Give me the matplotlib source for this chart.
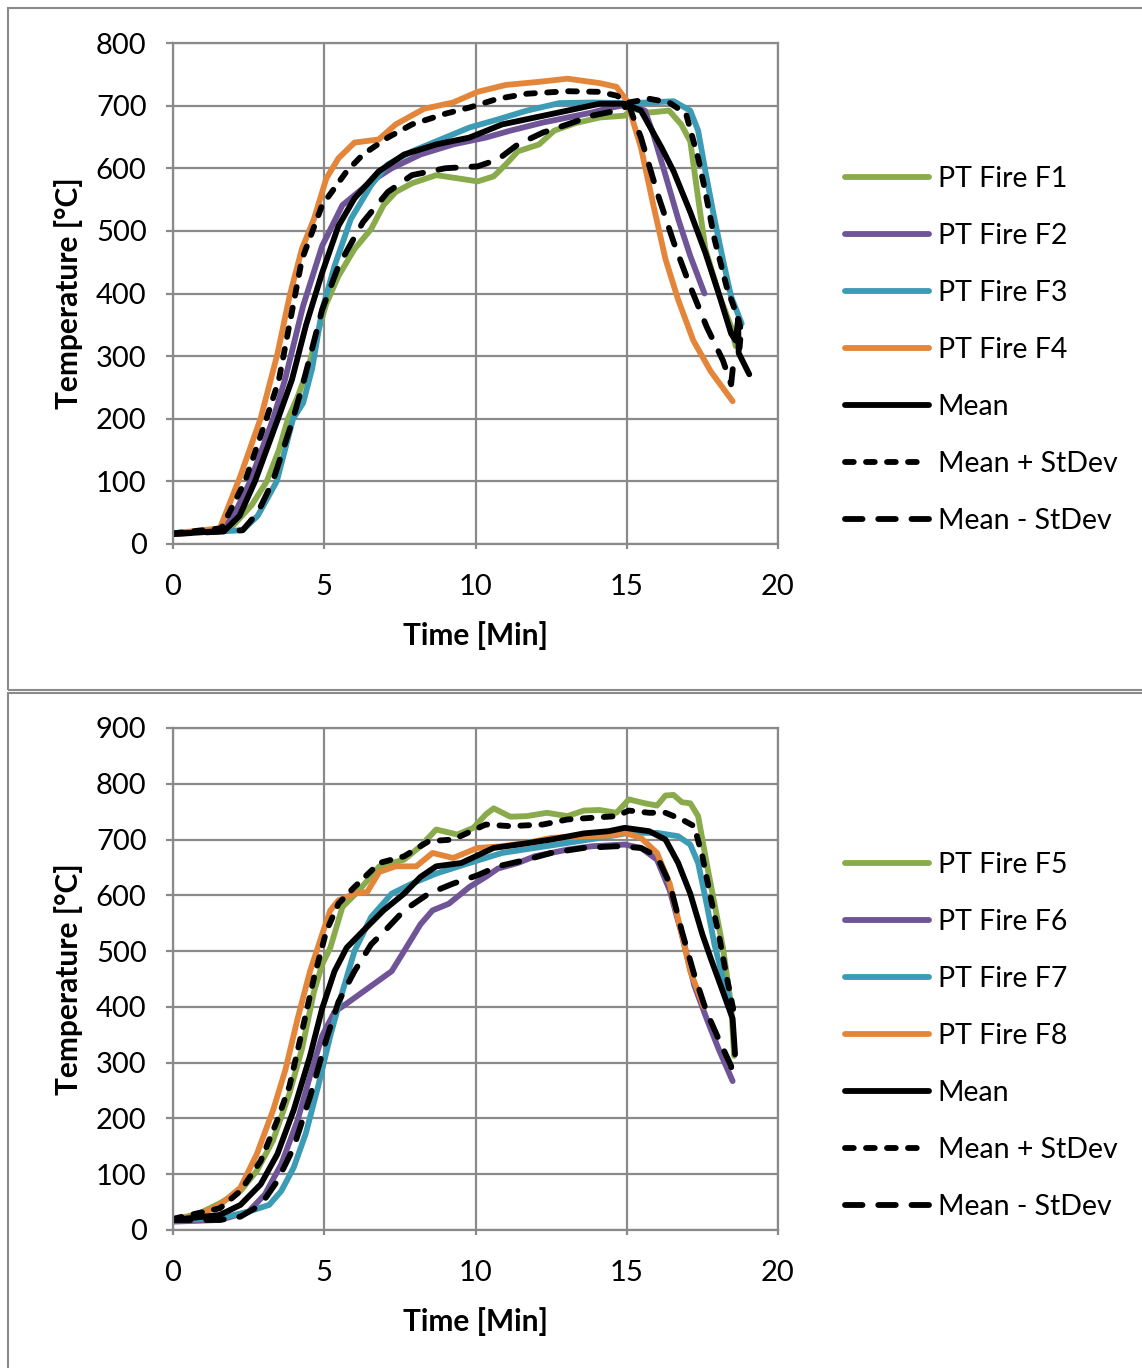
import matplotlib
matplotlib.use('Agg')
import matplotlib.pyplot as plt
from matplotlib.patches import Rectangle

plt.rcParams['font.family'] = ['Lato', 'DejaVu Sans']

# ---- top chart (F1-F4) ----
t_f1 = [0, 1.5, 2.0, 2.6, 3.1, 3.5, 3.8, 4.12, 4.46, 4.8, 5.07, 5.47, 6.0, 6.55, 6.96, 7.36, 7.9, 8.7, 9.4,
        10.07, 10.6, 11.0, 11.4, 12.1, 12.6, 13.3, 14.1, 14.93, 15.2, 15.74, 16.4, 16.8, 17.1, 17.36, 17.6,
        18.04, 18.45, 18.6]
T_f1 = [17, 22, 30, 62, 100, 150, 200, 235, 280, 340, 384, 428, 471, 503, 541, 562, 576, 589, 584,
        579, 587, 606, 627, 638, 660, 672, 681, 684, 695, 689, 692, 670, 643, 552, 471,
        400, 347, 316]

t_f2 = [0, 1.6, 2.0, 2.55, 3.31, 3.7, 4.3, 4.93, 5.6, 6.55, 7.23, 8.18, 9.26, 10.34, 11.15, 12.23, 13.04,
        13.85, 14.4, 15.07, 15.6, 15.88, 16.28, 16.7, 17.1, 17.57]
T_f2 = [17, 22, 45, 100, 200, 262, 380, 476, 541, 579, 600, 622, 638, 649, 660, 673, 681,
        689, 696, 702, 692, 654, 589, 519, 460, 400]

t_f3 = [0, 1.5, 2.3, 2.8, 3.43, 3.97, 4.3, 4.6, 4.93, 5.34, 5.88, 6.55, 7.1, 7.9, 9.0, 9.8, 10.74, 11.7,
        12.77, 13.85, 14.93, 15.74, 16.55, 17.1, 17.36, 17.6, 17.9, 18.18, 18.45, 18.8]
T_f3 = [17, 20, 22, 45, 100, 200, 225, 280, 374, 444, 519, 573, 606, 627, 649, 665, 678, 692,
        704, 705, 704, 705, 707, 692, 660, 595, 519, 454, 395, 352]

t_f4 = [0, 1.55, 2.23, 2.9, 3.45, 3.85, 4.26, 4.66, 5.07, 5.47, 6.0, 6.8, 7.36, 8.3, 9.26, 10.07, 11.0,
        12.1, 13.04, 14.1, 14.66, 15.0, 15.47, 15.88, 16.28, 16.7, 17.2, 17.77, 18.5]
T_f4 = [17, 25, 109, 201, 303, 395, 471, 519, 584, 616, 641, 646, 670, 695, 705, 722, 733,
        738, 743, 736, 730, 708, 633, 541, 455, 390, 325, 276, 228]

t_m1 = [0, 1.7, 2.2, 2.71, 3.47, 3.93, 4.4, 4.93, 5.47, 6.0, 6.8, 7.64, 8.7, 9.8, 10.88, 11.96, 13.04,
        14.1, 14.93, 15.47, 16.15, 16.55, 17.1, 17.6, 18.04, 18.45, 18.6, 18.68, 18.7, 19.05]
T_m1 = [16, 21, 45, 100, 200, 262, 350, 433, 508, 552, 595, 622, 638, 649, 670, 681, 692,
        703, 703, 692, 633, 595, 530, 465, 400, 336, 325, 358, 305, 271]

t_p1 = [0, 1.6, 2.38, 3.09, 3.5, 4.26, 4.93, 5.74, 6.28, 7.1, 7.9, 9.0, 9.8, 10.74, 11.7, 13.04, 14.1,
        14.66, 15.07, 15.74, 16.4, 16.96, 17.36, 17.6, 17.9, 18.3, 18.7, 18.78, 18.72]
T_p1 = [17, 25, 100, 200, 262, 454, 541, 595, 622, 649, 670, 687, 697, 711, 719, 723, 722,
        716, 705, 711, 705, 687, 616, 562, 487, 411, 357, 341, 309]

t_n1 = [0, 1.7, 2.3, 2.8, 3.3, 3.97, 4.33, 4.93, 5.47, 6.28, 7.1, 7.9, 9.0, 10.07, 10.74, 11.4, 12.23,
        13.04, 13.85, 14.66, 15.07, 15.47, 16.0, 16.55, 17.1, 17.64, 18.18, 18.45, 18.55]
T_n1 = [16, 20, 22, 50, 100, 200, 262, 374, 444, 514, 562, 589, 600, 603, 614, 638, 657,
        670, 684, 692, 700, 649, 562, 482, 411, 347, 293, 255, 300]

# ---- bottom chart (F5-F8) ----
t_f5 = [0, 0.88, 1.55, 2.23, 2.77, 3.31, 3.85, 4.26, 4.66, 4.93, 5.2, 5.6, 6.15, 6.82, 7.64, 8.18, 8.7,
        9.4, 9.93, 10.34, 10.6, 11.15, 11.7, 12.36, 13.04, 13.58, 14.1, 14.66, 15.07, 15.6, 16.0, 16.28,
        16.55, 16.82, 17.1, 17.36, 17.64, 17.9, 18.18, 18.45, 18.55]
T_f5 = [18, 30, 48, 70, 106, 161, 245, 324, 427, 476, 506, 579, 609, 652, 664, 688, 718,
        709, 721, 745, 756, 741, 742, 748, 742, 752, 753, 748, 772, 765, 761, 779,
        780, 767, 765, 742, 658, 585, 506, 403, 312]

t_f6 = [0, 1.55, 2.5, 3.04, 3.58, 4.12, 4.53, 4.93, 5.34, 5.74, 6.28, 6.82, 7.23, 7.64, 8.18, 8.58, 9.12,
        9.8, 10.34, 10.74, 11.4, 11.96, 13.04, 13.85, 14.93, 15.47, 16.0, 16.42, 16.82, 17.23, 17.64,
        18.04, 18.5]
T_f6 = [15, 18, 33, 64, 118, 197, 276, 348, 391, 406, 427, 448, 464, 500, 548, 573, 585,
        615, 633, 648, 658, 670, 682, 688, 691, 685, 664, 609, 530, 439, 379,
        324, 267]

t_f7 = [0, 1.55, 2.5, 3.18, 3.58, 3.99, 4.39, 4.8, 5.2, 5.6, 6.0, 6.55, 7.23, 7.9, 8.7, 9.8, 10.88,
        11.96, 13.04, 14.1, 15.07, 16.0, 16.7, 17.1, 17.36, 17.64, 17.9, 18.18, 18.5]
T_f7 = [18, 21, 33, 45, 70, 112, 173, 258, 348, 427, 500, 561, 603, 621, 639, 658, 676,
        685, 694, 703, 712, 712, 706, 691, 658, 585, 512, 452, 397]

t_f8 = [0, 0.88, 1.55, 2.23, 2.77, 3.31, 3.72, 4.12, 4.53, 4.93, 5.2, 5.47, 6.0, 6.42, 6.82, 7.36, 8.04,
        8.58, 9.26, 10.07, 10.88, 11.7, 12.5, 13.58, 14.4, 14.93, 15.47, 16.0, 16.42, 16.82, 17.1, 17.55]
T_f8 = [18, 27, 45, 76, 136, 215, 288, 379, 464, 530, 573, 591, 603, 606, 642, 652, 652,
        676, 667, 685, 688, 694, 703, 706, 707, 712, 703, 676, 621, 530, 464, 400]

t_m2 = [0, 1.55, 2.23, 2.9, 3.45, 3.99, 4.53, 4.93, 5.34, 5.74, 6.28, 6.96, 7.64, 8.18, 8.7, 9.53, 10.6,
        11.4, 12.5, 13.58, 14.4, 14.93, 15.74, 16.28, 16.7, 17.1, 17.5, 17.77, 18.18, 18.5, 18.58]
T_m2 = [18, 27, 45, 82, 136, 215, 312, 397, 464, 506, 536, 573, 603, 633, 652, 658, 685,
        691, 700, 711, 715, 721, 715, 700, 658, 603, 530, 488, 427, 379, 315]

t_p2 = [0, 1.55, 2.23, 2.9, 3.45, 3.85, 4.26, 4.66, 5.07, 5.47, 6.0, 6.82, 7.64, 8.45, 9.26, 10.34, 11.15,
        12.23, 13.04, 13.85, 14.66, 15.07, 15.74, 16.28, 16.82, 17.23, 17.5, 17.77, 18.04, 18.31, 18.58]
T_p2 = [20, 39, 70, 124, 197, 258, 355, 452, 536, 585, 615, 658, 670, 697, 700, 727, 724,
        727, 736, 739, 742, 752, 748, 748, 736, 724, 670, 597, 530, 452, 380]

t_n2 = [0, 1.55, 2.23, 2.9, 3.45, 3.99, 4.53, 5.07, 5.47, 6.0, 6.55, 7.1, 7.64, 8.45, 9.26, 10.07, 10.74,
        11.7, 12.5, 13.58, 14.66, 15.47, 16.0, 16.42, 16.82, 17.23, 17.64, 18.04, 18.45, 18.5]
T_n2 = [18, 18, 24, 45, 88, 148, 239, 342, 409, 464, 512, 542, 573, 603, 621, 636, 652,
        664, 676, 685, 688, 685, 670, 621, 536, 458, 391, 342, 294, 270]

green, purple, blue, orange = '#89AB4B', '#6F5597', '#3C9BB5', '#E4863A'
grid_c = '#8a8a8a'
LW = 4.2

fig = plt.figure(figsize=(11.42, 13.68), dpi=100)

# chart frames
fig.patches.append(Rectangle((8 / 1142, 1 - 690 / 1368), 1.2, 682 / 1368, transform=fig.transFigure,
                             fill=False, edgecolor=grid_c, lw=1.5))
fig.patches.append(Rectangle((8 / 1142, -0.1), 1.2, 1 - 693 / 1368 + 0.1, transform=fig.transFigure,
                             fill=False, edgecolor=grid_c, lw=1.5))


def draw(ax, fires, mean, plus, minus, ymax, leg_y):
    for (t, T, c, lab) in fires:
        ax.plot(t, T, color=c, lw=LW, label=lab, solid_capstyle='round', solid_joinstyle='round')
    ax.plot(mean[0], mean[1], color='black', lw=LW, label='Mean', solid_capstyle='round',
            solid_joinstyle='round')
    ax.plot(plus[0], plus[1], color='black', lw=LW, label='Mean + StDev',
            dashes=(1.5, 2.1), dash_capstyle='round', dash_joinstyle='round')
    ax.plot(minus[0], minus[1], color='black', lw=LW, label='Mean - StDev',
            dashes=(3.0, 2.7), dash_capstyle='round', dash_joinstyle='round')
    ax.set_xlim(0, 20)
    ax.set_ylim(0, ymax)
    ax.set_xticks(range(0, 21, 5))
    ax.set_yticks(range(0, ymax + 1, 100))
    ax.grid(True, color=grid_c, lw=1.6)
    ax.set_axisbelow(True)
    for s in ax.spines.values():
        s.set_color(grid_c)
        s.set_linewidth(1.6)
    ax.tick_params(axis='y', direction='out', length=5, width=1.6, color=grid_c, pad=14, labelsize=21)
    ax.tick_params(axis='x', direction='out', length=3.5, width=1.6, color=grid_c, pad=18, labelsize=21)
    ax.set_xlabel('Time [Min]', fontsize=21.5, fontweight='bold', labelpad=15)
    ax.set_ylabel('Temperature [°C]', fontsize=21.5, fontweight='bold', labelpad=9)
    ax.legend(loc='center left', bbox_to_anchor=(845 / 1142, leg_y), bbox_transform=fig.transFigure,
              frameon=False, fontsize=20.5, handlelength=2.95, handletextpad=0.3, labelspacing=1.09,
              borderpad=0, borderaxespad=0)


ax1 = fig.add_axes([173 / 1142, 1 - 544 / 1368, 605 / 1142, 501 / 1368])
draw(ax1,
     [(t_f1, T_f1, green, 'PT Fire F1'), (t_f2, T_f2, purple, 'PT Fire F2'),
      (t_f3, T_f3, blue, 'PT Fire F3'), (t_f4, T_f4, orange, 'PT Fire F4')],
     (t_m1, T_m1), (t_p1, T_p1), (t_n1, T_n1), 800, 1 - 350 / 1368)

ax2 = fig.add_axes([173 / 1142, 1 - 1230 / 1368, 605 / 1142, 502 / 1368])
draw(ax2,
     [(t_f5, T_f5, green, 'PT Fire F5'), (t_f6, T_f6, purple, 'PT Fire F6'),
      (t_f7, T_f7, blue, 'PT Fire F7'), (t_f8, T_f8, orange, 'PT Fire F8')],
     (t_m2, T_m2), (t_p2, T_p2), (t_n2, T_n2), 900, 1 - 1036 / 1368)

fig.savefig('out.png', dpi=100)
